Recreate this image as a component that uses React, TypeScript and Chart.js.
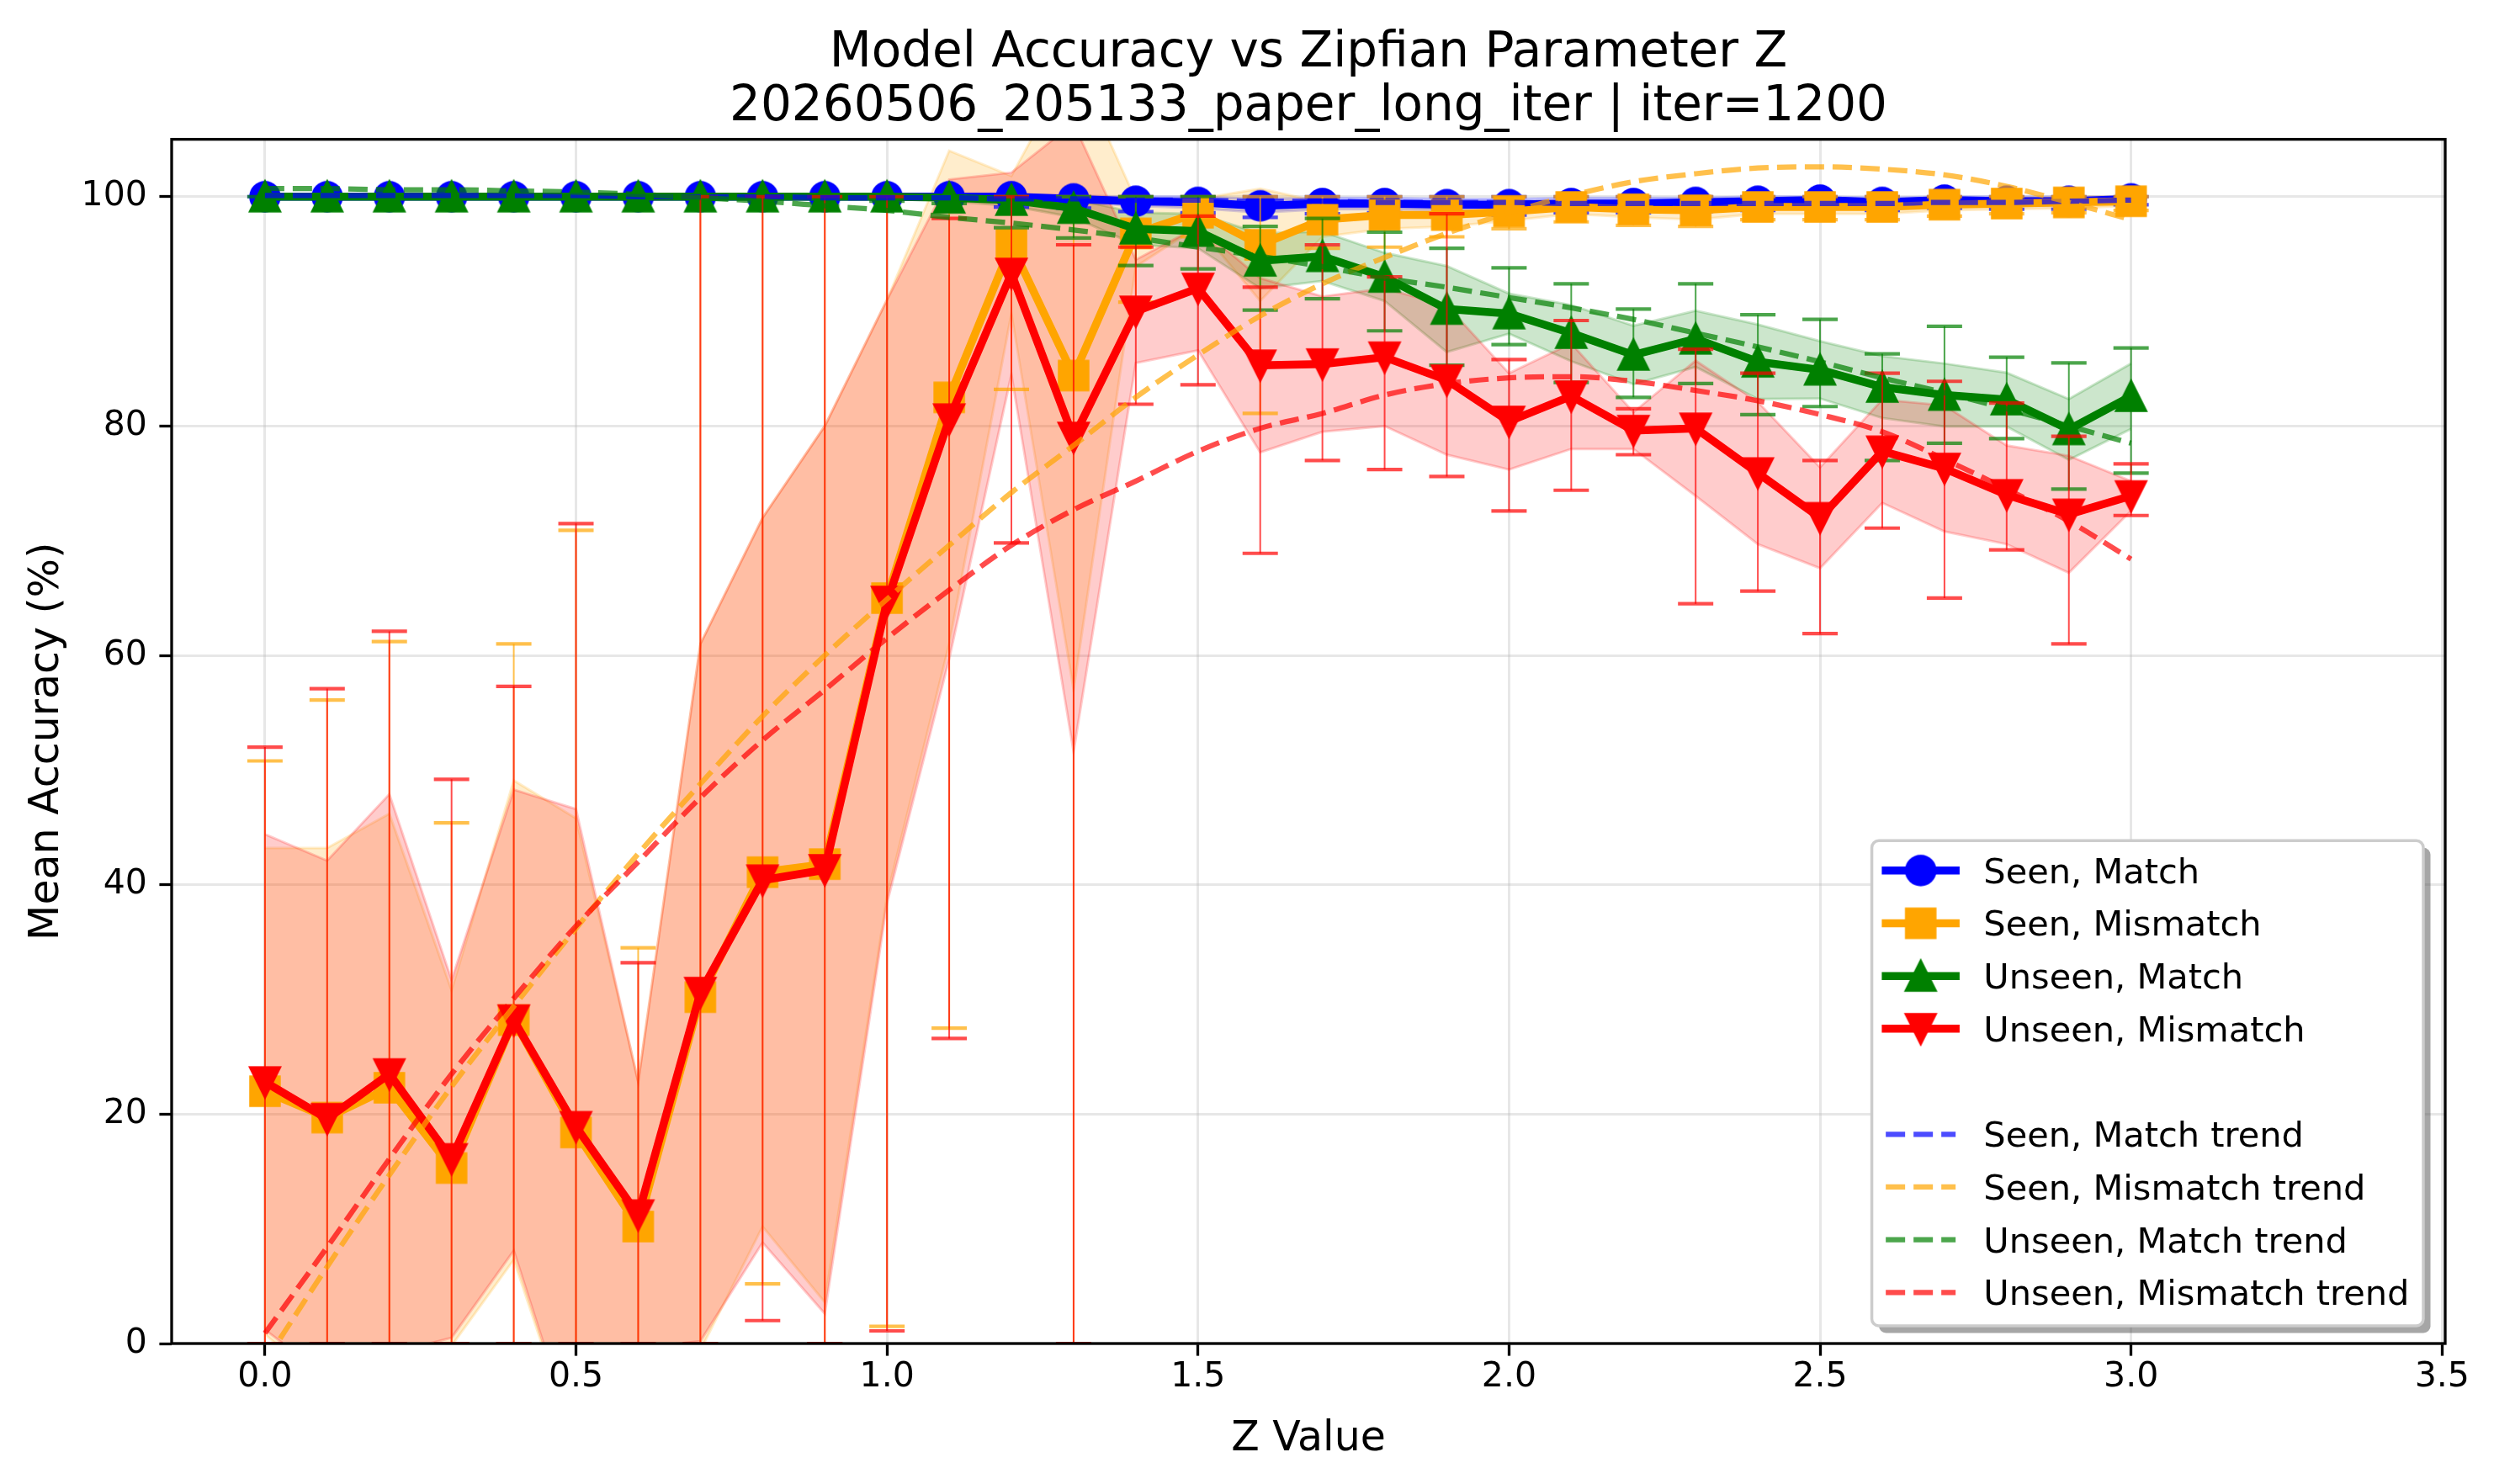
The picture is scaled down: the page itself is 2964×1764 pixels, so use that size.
import React, { useEffect, useRef } from 'react';
import { Chart, registerables } from 'chart.js';

Chart.register(...registerables);

const FONT = "'DejaVu Sans', 'Liberation Sans', sans-serif";

// Zipf exponent values (x positions of every measurement)
const zValues = [
  0.0, 0.1, 0.2, 0.3, 0.4, 0.5, 0.6, 0.7, 0.8, 0.9, 1.0,
  1.1, 1.2, 1.3, 1.4, 1.5, 1.6, 1.7, 1.8, 1.9, 2.0,
  2.1, 2.2, 2.3, 2.4, 2.5, 2.6, 2.7, 2.8, 2.9, 3.0,
];

const xTickValues = [0, 0.5, 1.0, 1.5, 2.0, 2.5, 3.0, 3.5];
const yTickValues = [0, 20, 40, 60, 80, 100];

// Seen, Match
const seenMatchMean = [
  100, 100, 100, 100, 100, 100, 100, 100, 100, 100, 100,
  100, 100, 99.8, 99.6, 99.5, 99.2, 99.4, 99.4, 99.3, 99.3,
  99.4, 99.4, 99.5, 99.6, 99.7, 99.5, 99.7, 99.6, 99.6, 99.8,
];
const seenMatchStd = [
  0, 0, 0, 0, 0, 0, 0, 0, 0, 0, 0,
  0, 0.2, 0.3, 0.4, 0.5, 0.6, 0.5, 0.5, 0.5, 0.5,
  0.5, 0.5, 0.4, 0.4, 0.3, 0.4, 0.3, 0.4, 0.4, 0.2,
];
const seenMatchErrLow = [
  100, 100, 100, 100, 100, 100, 100, 100, 100, 100, 100,
  100, 99.1, 99.0, 98.7, 98.6, 98.2, 98.5, 98.6, 98.4, 98.4,
  98.6, 98.6, 98.7, 98.8, 99.0, 98.8, 99.0, 98.9, 98.9, 99.3,
];
const seenMatchErrHigh = [
  100, 100, 100, 100, 100, 100, 100, 100, 100, 100, 100,
  100, 100, 100, 100, 100, 100, 100, 100, 100, 100,
  100, 100, 100, 100, 100, 100, 100, 100, 100, 100,
];
const seenMatchTrend = [
  100.1, 100.1, 100.1, 100.1, 100.1, 100.1, 100.0, 100.0, 100.0, 99.9, 99.9,
  99.9, 99.8, 99.8, 99.7, 99.7, 99.6, 99.6, 99.5, 99.5, 99.5,
  99.4, 99.4, 99.4, 99.4, 99.4, 99.4, 99.5, 99.5, 99.6, 99.7,
];

// Seen, Mismatch
const seenMismatchMean = [
  22.0, 19.7, 22.3, 15.3, 28.2, 18.4, 10.2, 30.2, 41.1, 41.8, 65.0,
  82.5, 95.8, 84.4, 96.8, 98.6, 95.8, 98.0, 98.4, 98.4, 98.7,
  99.1, 98.9, 98.8, 99.1, 99.1, 99.1, 99.3, 99.4, 99.5, 99.6,
];
const seenMismatchStd = [
  21.2, 23.5, 23.9, 15.5, 20.9, 27.4, 12.7, 30.8, 30.9, 38.2, 26.0,
  21.5, 6.0, 27.4, 2.9, 1.2, 4.9, 1.5, 1.2, 1.0, 0.8,
  0.6, 0.7, 0.8, 0.6, 0.6, 0.6, 0.5, 0.5, 0.5, 0.4,
];
const seenMismatchErrLow = [
  0, 0, 0, 0, 0, 0, 0, 0, 5.2, 0, 1.5,
  27.5, 83.2, 0, 90.8, 96.5, 81.1, 95.5, 95.6, 96.5, 97.2,
  97.8, 97.5, 97.4, 98.0, 98.0, 98.0, 98.3, 98.5, 98.6, 98.8,
];
const seenMismatchErrHigh = [
  50.8, 56.1, 61.2, 45.4, 61.0, 70.9, 34.5, 100, 100, 100, 100,
  100, 100, 100, 100, 100, 100, 100, 100, 100, 100,
  100, 100, 100, 100, 100, 100, 100, 100, 100, 100,
];
const seenMismatchTrend = [
  -1.6, 6.7, 14.7, 22.4, 29.4, 36.2, 42.7, 48.8, 54.7, 60.0, 64.9,
  69.6, 74.2, 78.3, 82.5, 86.2, 89.6, 92.4, 94.7, 96.8, 98.6,
  100.1, 101.3, 102.0, 102.5, 102.6, 102.4, 101.9, 100.9, 99.5, 98.0,
];

// Unseen, Match
const unseenMatchMean = [
  100, 100, 100, 100, 100, 100, 100, 100, 100, 100, 100,
  99.9, 99.7, 99.0, 97.2, 97.0, 94.4, 94.8, 93.0, 90.2, 89.8,
  88.1, 86.2, 87.6, 85.6, 84.9, 83.4, 82.7, 82.3, 79.7, 82.6,
];
const unseenMatchStd = [
  0, 0, 0, 0, 0, 0, 0, 0, 0, 0, 0,
  0.3, 0.5, 0.8, 1.4, 1.5, 2.4, 2.15, 2.1, 3.75, 1.75,
  2.45, 2.55, 2.45, 3.25, 2.5, 2.7, 2.75, 2.35, 2.65, 2.85,
];
const unseenMatchErrLow = [
  100, 100, 100, 100, 100, 100, 100, 100, 100, 100, 99.6,
  99.4, 97.3, 96.4, 94.0, 93.7, 90.1, 91.1, 88.3, 85.3, 87.1,
  83.8, 82.5, 83.7, 81.0, 81.7, 77.0, 78.5, 78.9, 74.5, 75.9,
];
const unseenMatchErrHigh = [
  100, 100, 100, 100, 100, 100, 100, 100, 100, 100, 100,
  100, 100, 100, 100, 100, 97.4, 98.1, 96.9, 95.5, 93.8,
  92.4, 90.2, 92.4, 89.7, 89.3, 86.3, 88.7, 86.0, 85.5, 86.8,
];
const unseenMatchTrend = [
  100.7, 100.7, 100.6, 100.6, 100.5, 100.4, 100.2, 99.9, 99.6, 99.2, 98.8,
  98.2, 97.7, 97.1, 96.4, 95.6, 94.8, 93.9, 92.9, 92.1, 91.2,
  90.3, 89.3, 88.1, 86.9, 85.6, 84.2, 82.9, 81.5, 80.0, 78.5,
];

// Unseen, Mismatch
const unseenMismatchMean = [
  22.8, 19.6, 23.5, 16.1, 28.2, 18.9, 11.2, 30.6, 40.4, 41.3, 64.7,
  80.6, 93.3, 79.0, 90.0, 92.0, 85.3, 85.4, 86.0, 84.0, 80.4,
  82.6, 79.6, 79.8, 75.9, 72.0, 77.8, 76.3, 74.0, 72.3, 73.9,
];
const unseenMismatchStd = [
  21.6, 22.5, 24.4, 15.6, 20.1, 27.7, 11.6, 30.4, 31.6, 38.7, 26.3,
  20.9, 8.8, 27.4, 4.5, 5.4, 7.6, 5.9, 6.0, 6.5, 4.2,
  4.6, 1.6, 5.9, 6.2, 4.4, 4.5, 5.5, 4.3, 5.1, 1.3,
];
const unseenMismatchErrLow = [
  0, 0, 0, 0, 0, 0, 0, 0, 2.0, 0, 1.1,
  26.6, 69.8, 0, 81.9, 83.6, 68.9, 77.0, 76.2, 75.6, 72.6,
  74.4, 77.5, 64.5, 65.6, 61.9, 71.1, 65.0, 69.2, 61.0, 72.2,
];
const unseenMismatchErrHigh = [
  52.0, 57.1, 62.1, 49.2, 57.3, 71.5, 33.2, 100, 100, 100, 100,
  98.1, 100, 95.8, 95.6, 98.3, 92.1, 95.8, 93.0, 98.5, 85.8,
  89.2, 81.5, 86.7, 84.6, 77.0, 84.6, 83.9, 82.0, 79.1, 76.7,
];
const unseenMismatchTrend = [
  0.9, 8.4, 16.1, 23.5, 30.1, 36.4, 42.0, 47.6, 52.6, 57.0, 61.5,
  65.7, 69.6, 72.7, 75.2, 77.8, 79.8, 81.1, 82.7, 83.7, 84.2,
  84.3, 83.9, 83.1, 82.2, 81.0, 79.5, 77.1, 74.5, 71.7, 68.4,
];

type MarkerShape = 'circle' | 'square' | 'triangleUp' | 'triangleDown';

interface SeriesDef {
  label: string;
  rgb: [number, number, number];
  marker: MarkerShape;
  mean: number[];
  std: number[];
  errLow: number[];
  errHigh: number[];
  trend: number[];
}

const series: SeriesDef[] = [
  { label: 'Seen, Match', rgb: [0, 0, 255], marker: 'circle', mean: seenMatchMean, std: seenMatchStd, errLow: seenMatchErrLow, errHigh: seenMatchErrHigh, trend: seenMatchTrend },
  { label: 'Seen, Mismatch', rgb: [255, 165, 0], marker: 'square', mean: seenMismatchMean, std: seenMismatchStd, errLow: seenMismatchErrLow, errHigh: seenMismatchErrHigh, trend: seenMismatchTrend },
  { label: 'Unseen, Match', rgb: [0, 128, 0], marker: 'triangleUp', mean: unseenMatchMean, std: unseenMatchStd, errLow: unseenMatchErrLow, errHigh: unseenMatchErrHigh, trend: unseenMatchTrend },
  { label: 'Unseen, Mismatch', rgb: [255, 0, 0], marker: 'triangleDown', mean: unseenMismatchMean, std: unseenMismatchStd, errLow: unseenMismatchErrLow, errHigh: unseenMismatchErrHigh, trend: unseenMismatchTrend },
];

const rgba = (c: [number, number, number], a: number) => `rgba(${c[0]},${c[1]},${c[2]},${a})`;

// Filled marker sprites (fill plus same-colour edge, as drawn by matplotlib)
function makeMarker(shape: MarkerShape, color: string): HTMLCanvasElement {
  const size = 48;
  const c = document.createElement('canvas');
  c.width = size;
  c.height = size;
  const g = c.getContext('2d') as CanvasRenderingContext2D;
  const m = size / 2;
  g.fillStyle = color;
  g.beginPath();
  if (shape === 'circle') {
    g.arc(m, m, 18.75, 0, Math.PI * 2);
  } else if (shape === 'square') {
    g.rect(m - 18.75, m - 18.75, 37.5, 37.5);
  } else if (shape === 'triangleUp') {
    g.moveTo(m, m - 21.3);
    g.lineTo(m + 20, m + 18.7);
    g.lineTo(m - 20, m + 18.7);
  } else {
    g.moveTo(m, m + 21.3);
    g.lineTo(m + 20, m - 18.7);
    g.lineTo(m - 20, m - 18.7);
  }
  g.closePath();
  g.fill();
  return c;
}

const LINE_W = 9.5;
const TREND_W = 6.25;
const TREND_DASH = [23, 10];
const ERR_W = 2;
const CAP_W = 4.2;
const CAP_HALF = 21;

// Error bars (vertical whisker + caps), drawn just before each series line
const errorBarPlugin = {
  id: 'errorBars',
  beforeDatasetDraw(chart: any, args: any) {
    const ds = chart.data.datasets[args.index];
    if (!ds.errLow) return;
    const { ctx, chartArea, scales } = chart;
    const xs = scales.x;
    const ys = scales.y;
    ctx.save();
    ctx.beginPath();
    ctx.rect(chartArea.left, chartArea.top, chartArea.right - chartArea.left, chartArea.bottom - chartArea.top);
    ctx.clip();
    ctx.strokeStyle = ds.errColor;
    ctx.lineCap = 'butt';
    zValues.forEach((z, i) => {
      const px = xs.getPixelForValue(z);
      const lo = ys.getPixelForValue(ds.errLow[i]);
      const hi = ys.getPixelForValue(ds.errHigh[i]);
      ctx.lineWidth = ERR_W;
      ctx.beginPath();
      ctx.moveTo(px, lo);
      ctx.lineTo(px, hi);
      ctx.stroke();
      ctx.lineWidth = CAP_W;
      ctx.beginPath();
      ctx.moveTo(px - CAP_HALF, lo);
      ctx.lineTo(px + CAP_HALF, lo);
      ctx.moveTo(px - CAP_HALF, hi);
      ctx.lineTo(px + CAP_HALF, hi);
      ctx.stroke();
    });
    ctx.restore();
  },
};

// Black frame around the plotting area
const framePlugin = {
  id: 'axesFrame',
  afterDatasetsDraw(chart: any) {
    const { ctx, chartArea } = chart;
    ctx.save();
    ctx.strokeStyle = '#000';
    ctx.lineWidth = 3.3;
    ctx.strokeRect(chartArea.left, chartArea.top, chartArea.right - chartArea.left, chartArea.bottom - chartArea.top);
    ctx.restore();
  },
};

const markerSprites: Record<MarkerShape, HTMLCanvasElement> = {} as any;

// Legend in the lower right corner, with a blank row between data and trend entries
const legendPlugin = {
  id: 'cornerLegend',
  afterDraw(chart: any) {
    const { ctx, chartArea } = chart;
    const fontSize = 41.5;
    const pad = 0.4 * fontSize;
    const handleLen = 2.0 * fontSize;
    const textPad = 0.8 * fontSize;
    const rowPitch = 62.7;
    const entries: ({ kind: 'line' | 'trend'; s: SeriesDef } | null)[] = [
      ...series.map((s) => ({ kind: 'line' as const, s })),
      null,
      ...series.map((s) => ({ kind: 'trend' as const, s })),
    ];
    const labelOf = (e: any) => (e.kind === 'line' ? e.s.label : `${e.s.label} trend`);
    ctx.save();
    ctx.font = `${fontSize}px ${FONT}`;
    let textW = 0;
    entries.forEach((e) => {
      if (e) textW = Math.max(textW, ctx.measureText(labelOf(e)).width);
    });
    const w = pad + handleLen + textPad + textW + pad;
    const h = 2 * pad + entries.length * rowPitch - 0.5 * fontSize;
    const right = chartArea.right - 26;
    const bottom = chartArea.bottom - 21;
    const left = right - w;
    const top = bottom - h;
    const radius = 8.3;

    ctx.fillStyle = 'rgba(77,77,77,0.5)';
    ctx.beginPath();
    ctx.roundRect(left + 8.5, top + 8.5, w, h, radius);
    ctx.fill();

    ctx.fillStyle = '#ffffff';
    ctx.strokeStyle = '#cccccc';
    ctx.lineWidth = 3.5;
    ctx.beginPath();
    ctx.roundRect(left, top, w, h, radius);
    ctx.fill();
    ctx.stroke();

    const hx0 = left + pad;
    const hx1 = hx0 + handleLen;
    const tx = hx1 + textPad;
    entries.forEach((e, i) => {
      if (!e) return;
      const cy = top + 35.5 + i * rowPitch;
      if (e.kind === 'line') {
        ctx.setLineDash([]);
        ctx.strokeStyle = rgba(e.s.rgb, 1);
        ctx.lineWidth = LINE_W;
        ctx.lineCap = 'square';
        ctx.beginPath();
        ctx.moveTo(hx0, cy);
        ctx.lineTo(hx1, cy);
        ctx.stroke();
        const img = markerSprites[e.s.marker];
        ctx.drawImage(img, (hx0 + hx1) / 2 - img.width / 2, cy - img.height / 2);
      } else {
        ctx.setLineDash(TREND_DASH);
        ctx.strokeStyle = rgba(e.s.rgb, 0.7);
        ctx.lineWidth = TREND_W;
        ctx.lineCap = 'butt';
        ctx.beginPath();
        ctx.moveTo(hx0, cy);
        ctx.lineTo(hx1, cy);
        ctx.stroke();
      }
      ctx.setLineDash([]);
      ctx.fillStyle = '#000';
      ctx.textAlign = 'left';
      ctx.textBaseline = 'alphabetic';
      ctx.fillText(labelOf(e), tx, cy + 15);
    });
    ctx.restore();
  },
};

function buildDatasets() {
  const sets: any[] = [];
  const pts = (vals: number[]) => zValues.map((z, i) => ({ x: z, y: vals[i] }));
  // shaded mean +/- std bands
  series.forEach((s, si) => {
    const bandColor = rgba(s.rgb, 0.2);
    sets.push({
      label: `${s.label} band low`,
      data: pts(s.mean.map((m, i) => m - s.std[i])),
      borderColor: bandColor,
      borderWidth: 3,
      backgroundColor: 'transparent',
      pointRadius: 0,
      fill: false,
      tension: 0,
      clip: 0,
      order: 100 - si * 2,
    });
    sets.push({
      label: `${s.label} band high`,
      data: pts(s.mean.map((m, i) => m + s.std[i])),
      borderColor: bandColor,
      borderWidth: 3,
      backgroundColor: bandColor,
      pointRadius: 0,
      fill: '-1',
      tension: 0,
      clip: 0,
      order: 99 - si * 2,
    });
  });
  // mean lines with markers and error bars
  series.forEach((s, si) => {
    const color = rgba(s.rgb, 1);
    const sprite = makeMarker(s.marker, color);
    markerSprites[s.marker] = sprite;
    sets.push({
      label: s.label,
      data: pts(s.mean),
      borderColor: color,
      backgroundColor: color,
      borderWidth: LINE_W,
      borderJoinStyle: 'round',
      pointStyle: sprite,
      pointRadius: 19,
      pointHoverRadius: 19,
      pointBorderWidth: 0,
      fill: false,
      tension: 0,
      order: 10 - si,
      errLow: s.errLow,
      errHigh: s.errHigh,
      errColor: rgba(s.rgb, 0.7),
    });
  });
  // fitted trend curves
  series.forEach((s, si) => {
    sets.push({
      label: `${s.label} trend`,
      data: pts(s.trend),
      borderColor: rgba(s.rgb, 0.7),
      borderWidth: TREND_W,
      borderDash: TREND_DASH,
      pointRadius: 0,
      fill: false,
      cubicInterpolationMode: 'monotone',
      clip: 0,
      order: 4 - si,
    });
  });
  return sets;
}

export default function App() {
  const canvasRef = useRef<HTMLCanvasElement>(null);

  useEffect(() => {
    const canvas = canvasRef.current;
    if (!canvas) return;
    const gridColor = 'rgba(176,176,176,0.3)';
    const chart = new Chart(canvas, {
      type: 'line',
      data: { datasets: buildDatasets() },
      options: {
        responsive: false,
        animation: false,
        devicePixelRatio: 1,
        events: [],
        layout: { padding: { left: 0, right: 58, top: 0, bottom: 0 } },
        plugins: {
          legend: { display: false },
          tooltip: { enabled: false },
          title: {
            display: true,
            fullSize: false,
            text: ['Model Accuracy vs Zipfian Parameter Z', '20260506_205133_paper_long_iter | iter=1200'],
            color: '#000',
            font: { family: FONT, size: 58, weight: 'normal', lineHeight: 1.1 },
            padding: { top: 32, bottom: 6 },
          },
        },
        scales: {
          x: {
            type: 'linear',
            min: -0.15,
            max: 3.505,
            afterBuildTicks: (scale: any) => {
              scale.ticks = xTickValues.map((v) => ({ value: v }));
            },
            afterFit: (scale: any) => {
              scale.height = 167;
            },
            ticks: {
              autoSkip: false,
              maxRotation: 0,
              color: '#000',
              padding: 1.5,
              font: { family: FONT, size: 41 },
              callback: (v: any) => Number(v).toFixed(1),
            },
            grid: { color: gridColor, lineWidth: 3, tickColor: '#000', tickWidth: 3.3, tickLength: 14.6 },
            border: { display: false },
            title: {
              display: true,
              text: 'Z Value',
              color: '#000',
              font: { family: FONT, size: 49 },
              padding: { top: 0, bottom: 23 },
            },
          },
          y: {
            type: 'linear',
            min: 0,
            max: 105,
            afterBuildTicks: (scale: any) => {
              scale.ticks = yTickValues.map((v) => ({ value: v }));
            },
            afterFit: (scale: any) => {
              scale.width = 204;
            },
            ticks: {
              color: '#000',
              padding: 14.6,
              font: { family: FONT, size: 41 },
              callback: (v: any) => String(v),
            },
            grid: { color: gridColor, lineWidth: 3, tickColor: '#000', tickWidth: 3.3, tickLength: 14.6 },
            border: { display: false },
            title: {
              display: true,
              text: 'Mean Accuracy (%)',
              color: '#000',
              font: { family: FONT, size: 49 },
              padding: { top: 27, bottom: 0 },
            },
          },
        },
      } as any,
      plugins: [errorBarPlugin, framePlugin, legendPlugin],
    });
    return () => chart.destroy();
  }, []);

  return (
    <div style={{ position: 'absolute', left: 0, top: 0, width: 2964, height: 1764, background: '#ffffff' }}>
      <canvas ref={canvasRef} width={2964} height={1764} style={{ display: 'block', width: 2964, height: 1764 }} />
    </div>
  );
}
